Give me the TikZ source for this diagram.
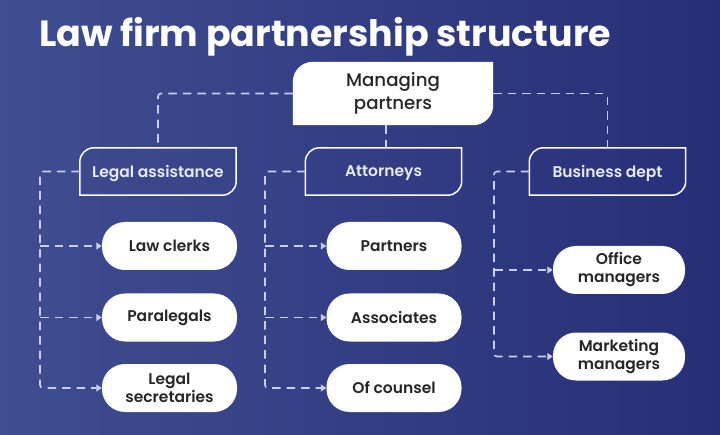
\documentclass[tikz,border=0pt]{standalone}
\usepackage{fontspec}
\setmainfont{Poppins}
\newfontfamily\pmed{Poppins Medium}
\newfontfamily\psemi{Poppins SemiBold}
\usetikzlibrary{arrows.meta}
\definecolor{bgL}{HTML}{3F4E90}
\definecolor{bgR}{HTML}{262E77}
\definecolor{lineC}{HTML}{C9CEF0}
\definecolor{txtD}{HTML}{262626}
\definecolor{txtL}{HTML}{E8EBF9}
\tikzset{
  topbox/.style={minimum width=200pt,minimum height=63pt,inner sep=0pt,align=center,font=\pmed\fontsize{18.2}{23}\selectfont,text=txtD},
  midbox/.style={minimum width=156pt,minimum height=47pt,inner sep=0pt,align=center,font=\psemi\fontsize{15.5}{18}\selectfont,text=txtL},
  leafbox/.style={fill=white,rounded corners=23pt,minimum width=135pt,minimum height=48pt,inner sep=0pt,align=center,font=\psemi\fontsize{15.5}{18}\selectfont,text=txtD},
  conn/.style={draw=lineC,line width=1.6pt,dash pattern=on 8.5pt off 6pt,rounded corners=3pt},
  arr/.style={conn,-{Triangle[length=5.5pt,width=7pt]}},
}
\newcommand\cutshape[3]{%
  \path[#2] (#1.south west) -- ([yshift=-#3]#1.north west) arc[start angle=180,end angle=90,radius=#3] -- (#1.north east) -- ([yshift=#3]#1.south east) arc[start angle=0,end angle=-90,radius=#3] -- cycle;}
\begin{document}
\begin{tikzpicture}[x=1pt,y=1pt]
\shade[left color=bgL,right color=bgR] (0,0) rectangle (720,434);
\useasboundingbox (0,0) rectangle (720,434);
\node[anchor=base west,text=white,font=\bfseries\fontsize{36.4}{40}\selectfont,inner sep=0pt] (title) at (39,387) {Law firm partnership structure};
% top
\node[topbox] (mp) at (393,340.5) {};
\cutshape{mp}{fill=white}{20pt}
\node[topbox] at (mp) {Managing\\partners};
% level 2
\node[midbox] (la) at (158,262.5) {};
\node[midbox] (at) at (383.5,262.5) {};
\node[midbox] (bd) at (607.5,262.5) {};
\cutshape{la}{draw=white,line width=1.5pt}{14pt}
\cutshape{at}{draw=white,line width=1.5pt}{14pt}
\cutshape{bd}{draw=white,line width=1.5pt}{14pt}
\node[midbox,yshift=-2pt] at (la) {Legal assistance};
\node[midbox,yshift=-2pt] at (at) {Attorneys};
\node[midbox,yshift=-2pt] at (bd) {Business dept};
% leaves
\node[leafbox] (lc) at (169.5,188) {Law clerks};
\node[leafbox] (pl) at (169.5,116.5) {Paralegals};
\node[leafbox] (ls) at (169.5,46) {Legal\\secretaries};
\node[leafbox] (pa) at (394,188) {Partners};
\node[leafbox] (as) at (394,116.5) {Associates};
\node[leafbox] (oc) at (394,46) {Of counsel};
\node[leafbox,minimum width=132pt] (om) at (619,164) {Office\\managers};
\node[leafbox,minimum width=132pt] (mm) at (619,77.5) {Marketing\\managers};
% trunk coordinates
\coordinate (t1) at (40,262.5);
\coordinate (t2) at (265,262.5);
\coordinate (t3) at (494,262.5);
% top connectors
\draw[conn] (mp.west) -| (la.north);
\draw[conn] (mp.east) -| (bd.north);
\draw[conn] ([xshift=-7pt]mp.south) -- ([xshift=-7pt]mp.south |- at.north);
% column 1
\draw[arr] (la.west) -- (t1) |- (ls.west);
\draw[arr] (t1 |- lc.west) -- (lc.west);
\draw[arr] (t1 |- pl.west) -- (pl.west);
% column 2
\draw[arr] (at.west) -- (t2) |- (oc.west);
\draw[arr] (t2 |- pa.west) -- (pa.west);
\draw[arr] (t2 |- as.west) -- (as.west);
% column 3
\draw[arr] (bd.west) -- (t3) |- (mm.west);
\draw[arr] (t3 |- om.west) -- (om.west);
\end{tikzpicture}
\end{document}
